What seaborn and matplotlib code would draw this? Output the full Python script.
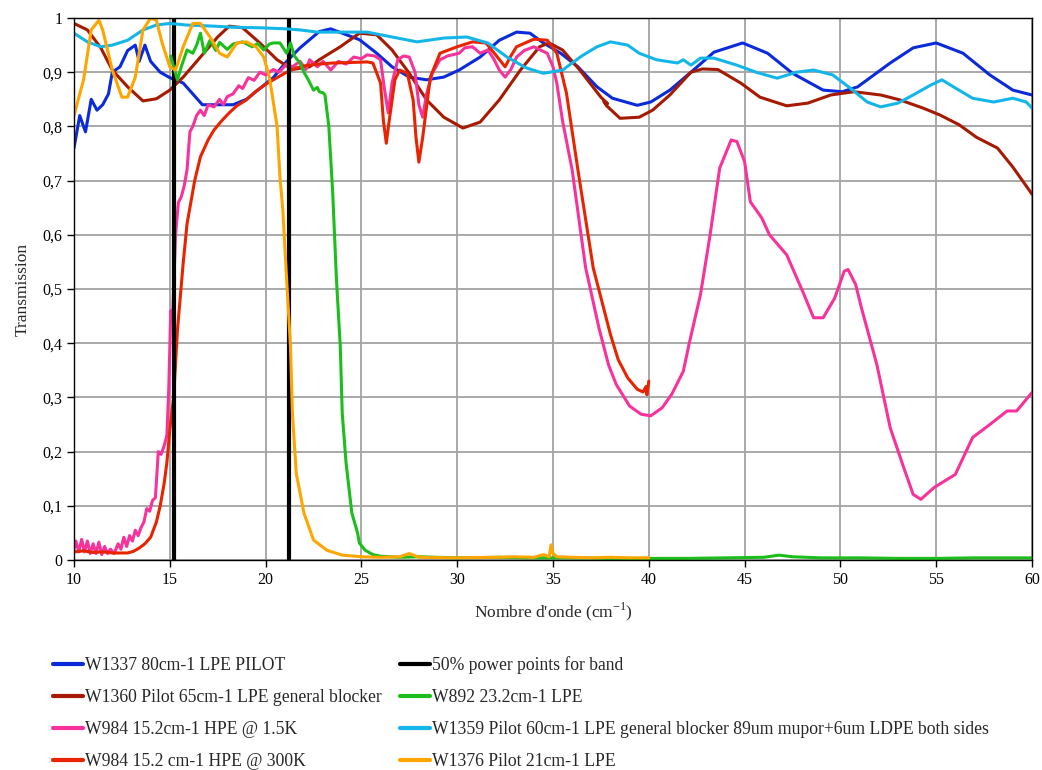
import numpy as np
import pandas as pd
import matplotlib
matplotlib.use("Agg")
import matplotlib.pyplot as plt
import seaborn as sns

# --- valeurs ---
x_ticks = [10, 15, 20, 25, 30, 35, 40, 45, 50, 55, 60]
y_ticks = [0, 0.1, 0.2, 0.3, 0.4, 0.5, 0.6, 0.7, 0.8, 0.9, 1.0]
y_tick_labels = ["0", "0,1", "0,2", "0,3", "0,4", "0,5", "0,6", "0,7", "0,8", "0,9", "1"]

w1337_x = [10.0, 10.3, 10.6, 10.9, 11.2, 11.5, 11.8, 12.0, 12.4, 12.8, 13.2, 13.4, 13.7, 14.0,
           14.5, 15.0, 15.7, 16.2, 16.7, 17.5, 18.3, 19.0, 19.7, 20.4, 21.1, 21.8, 22.8, 23.4,
           24.0, 24.9, 25.8, 26.6, 27.5, 28.4, 29.3, 30.1, 31.2, 32.2, 33.1, 33.8, 34.5, 35.4,
           36.3, 37.3, 38.1, 39.4, 40.1, 41.1, 42.2, 43.4, 44.9, 46.2, 47.5, 49.1, 50.1, 50.9,
           52.6, 53.8, 55.0, 56.4, 57.8, 59.0, 60.0]
w1337_y = [0.76, 0.82, 0.79, 0.85, 0.83, 0.84, 0.86, 0.90, 0.91, 0.94, 0.95, 0.92, 0.95, 0.92,
           0.90, 0.89, 0.88, 0.86, 0.84, 0.84, 0.84, 0.85, 0.87, 0.89, 0.92, 0.945, 0.975, 0.98,
           0.972, 0.96, 0.935, 0.91, 0.891, 0.886, 0.891, 0.904, 0.928, 0.959, 0.974, 0.972, 0.954, 0.935,
           0.91, 0.873, 0.852, 0.839, 0.845, 0.867, 0.90, 0.937, 0.954, 0.935, 0.898, 0.867, 0.864, 0.873,
           0.917, 0.945, 0.954, 0.935, 0.895, 0.867, 0.858]

w1360_x = [10.0, 10.7, 11.4, 12.0, 12.8, 13.6, 14.3, 15.0, 15.7, 16.6, 17.5, 18.1, 18.8, 19.7,
           20.6, 21.4, 22.3, 22.8, 23.9, 24.9, 25.8, 26.6, 27.5, 28.4, 29.3, 30.3, 31.2, 32.2,
           33.3, 34.3, 34.8, 35.5, 36.4, 37.5, 37.85, 37.65, 37.8, 38.5, 39.5, 40.2, 41.1, 42.2,
           42.8, 43.6, 44.8, 45.8, 47.2, 48.3, 49.5, 50.7, 52.1, 53.1, 54.3, 55.2, 56.2, 57.1,
           58.2, 59.0, 60.0]
w1360_y = [0.99, 0.978, 0.945, 0.904, 0.873, 0.847, 0.851, 0.867, 0.891, 0.928, 0.965, 0.985, 0.982, 0.954,
           0.923, 0.905, 0.91, 0.923, 0.947, 0.972, 0.969, 0.941, 0.898, 0.849, 0.817, 0.797, 0.808, 0.849,
           0.904, 0.947, 0.954, 0.941, 0.904, 0.854, 0.842, 0.846, 0.838, 0.815, 0.817, 0.83, 0.858, 0.90,
           0.906, 0.905, 0.88, 0.854, 0.838, 0.843, 0.858, 0.864, 0.858, 0.849, 0.834, 0.821, 0.803, 0.78,
           0.76, 0.725, 0.675]

w984_cold_x = [10.0, 10.1, 10.25, 10.4, 10.55, 10.7, 10.85, 11.0, 11.15, 11.3, 11.45, 11.6, 11.75, 11.9,
               12.1, 12.3, 12.45, 12.6, 12.75, 12.9, 13.05, 13.2, 13.35, 13.5, 13.65, 13.8, 13.95, 14.1,
               14.25, 14.4, 14.55, 14.7, 14.85, 14.95, 15.05, 15.15, 15.3, 15.45, 15.6, 15.75, 15.9, 16.05,
               16.2, 16.4, 16.6, 16.8, 17.0, 17.3, 17.6, 17.8, 18.0, 18.3, 18.6, 18.8, 19.1, 19.4,
               19.7, 20.0, 20.4, 20.7, 21.1, 21.4, 21.8, 22.1, 22.3, 22.7, 23.0, 23.4, 23.8, 24.2,
               24.6, 25.0, 25.3, 25.7, 26.0, 26.2, 26.4, 26.6, 26.9, 27.2, 27.5, 27.8, 28.0, 28.2,
               28.4, 28.7, 29.1, 29.5, 30.1, 30.4, 30.8, 31.2, 31.6, 31.9, 32.2, 32.5, 32.8, 33.1,
               33.5, 34.0, 34.4, 34.7, 35.0, 35.2, 35.5, 36.0, 36.7, 37.4, 37.9, 38.3, 39.0, 39.6,
               40.1, 40.7, 41.2, 41.8, 42.1, 42.7, 43.2, 43.7, 44.3, 44.6, 45.0, 45.3, 45.9, 46.3,
               47.2, 48.1, 48.6, 49.1, 49.7, 50.2, 50.4, 50.8, 51.1, 51.9, 52.6, 53.3, 53.8, 54.2,
               54.9, 56.0, 56.9, 57.8, 58.7, 59.2, 60.0]
w984_cold_y = [0.02, 0.035, 0.015, 0.038, 0.015, 0.035, 0.012, 0.03, 0.012, 0.033, 0.01, 0.025, 0.012, 0.02,
               0.012, 0.03, 0.02, 0.042, 0.025, 0.045, 0.035, 0.055, 0.045, 0.06, 0.07, 0.095, 0.09, 0.11,
               0.115, 0.20, 0.195, 0.21, 0.23, 0.32, 0.46, 0.45, 0.60, 0.66, 0.67, 0.69, 0.72, 0.79,
               0.80, 0.82, 0.83, 0.82, 0.84, 0.836, 0.85, 0.84, 0.855, 0.86, 0.875, 0.87, 0.89, 0.885,
               0.90, 0.895, 0.905, 0.90, 0.915, 0.91, 0.92, 0.905, 0.923, 0.91, 0.92, 0.904, 0.92, 0.915,
               0.928, 0.925, 0.932, 0.93, 0.923, 0.87, 0.825, 0.88, 0.923, 0.93, 0.928, 0.90, 0.84, 0.817,
               0.86, 0.898, 0.923, 0.93, 0.935, 0.945, 0.947, 0.935, 0.941, 0.925, 0.904, 0.891, 0.905, 0.928,
               0.94, 0.947, 0.94, 0.935, 0.91, 0.88, 0.81, 0.72, 0.54, 0.428, 0.36, 0.324, 0.284, 0.269,
               0.266, 0.281, 0.306, 0.348, 0.398, 0.49, 0.60, 0.723, 0.775, 0.772, 0.735, 0.661, 0.631, 0.60,
               0.563, 0.49, 0.447, 0.447, 0.483, 0.533, 0.536, 0.508, 0.465, 0.361, 0.244, 0.171, 0.121, 0.112,
               0.134, 0.158, 0.226, 0.25, 0.275, 0.275, 0.309]

w984_warm_x = [10.0, 10.5, 11.0, 11.5, 12.0, 12.5, 12.8, 13.1, 13.4, 13.7, 14.0, 14.3, 14.5, 14.7,
               14.85, 15.0, 15.2, 15.4, 15.7, 15.9, 16.1, 16.3, 16.6, 17.0, 17.3, 17.7, 18.1, 18.5,
               19.0, 19.5, 20.1, 20.6, 21.1, 21.6, 22.2, 22.8, 23.5, 24.5, 25.3, 25.6, 26.0, 26.15,
               26.3, 26.45, 26.75, 27.0, 27.4, 27.7, 27.85, 28.0, 28.2, 28.6, 29.1, 30.0, 30.8, 31.5,
               32.1, 32.5, 32.8, 33.1, 34.0, 34.7, 35.2, 35.7, 36.3, 37.1, 38.0, 38.4, 38.9, 39.4,
               39.7, 39.85, 39.9, 40.0]
w984_warm_y = [0.015, 0.017, 0.014, 0.015, 0.013, 0.013, 0.013, 0.016, 0.022, 0.03, 0.042, 0.07, 0.10, 0.14,
               0.18, 0.24, 0.30, 0.424, 0.548, 0.62, 0.66, 0.70, 0.744, 0.775, 0.793, 0.81, 0.825, 0.838,
               0.849, 0.865, 0.88, 0.89, 0.90, 0.908, 0.913, 0.915, 0.917, 0.918, 0.919, 0.917, 0.88, 0.81,
               0.769, 0.81, 0.886, 0.904, 0.898, 0.849, 0.78, 0.734, 0.78, 0.891, 0.935, 0.947, 0.956, 0.954,
               0.928, 0.91, 0.93, 0.947, 0.961, 0.959, 0.935, 0.862, 0.72, 0.539, 0.416, 0.37, 0.336, 0.315,
               0.31, 0.32, 0.305, 0.33]

band_low_x = [15.2, 15.2]
band_high_x = [21.2, 21.2]
band_y = [0.0, 1.0]

w892_x = [15.05, 15.2, 15.4, 15.6, 15.9, 16.2, 16.4, 16.6, 16.8, 17.1, 17.4, 17.6, 18.0, 18.3,
          18.8, 19.3, 19.6, 19.9, 20.2, 20.4, 20.75, 21.1, 21.3, 21.5, 21.8, 22.0, 22.2, 22.5,
          22.7, 22.8, 23.0, 23.1, 23.3, 23.5, 23.7, 23.9, 24.0, 24.2, 24.5, 24.8, 24.9, 25.2,
          25.6, 26.0, 27.0, 28.0, 30.0, 32.0, 34.0, 36.0, 38.0, 40.0, 42.0, 44.0, 46.0, 46.8,
          47.5, 49.0, 51.0, 53.0, 55.0, 57.0, 59.0, 60.0]
w892_y = [0.93, 0.91, 0.886, 0.91, 0.941, 0.935, 0.95, 0.972, 0.935, 0.959, 0.94, 0.955, 0.942, 0.952,
          0.956, 0.947, 0.953, 0.941, 0.952, 0.954, 0.954, 0.935, 0.954, 0.93, 0.917, 0.90, 0.888, 0.867,
          0.872, 0.864, 0.862, 0.858, 0.80, 0.68, 0.517, 0.393, 0.271, 0.179, 0.087, 0.05, 0.031, 0.018,
          0.01, 0.007, 0.005, 0.006, 0.004, 0.005, 0.004, 0.004, 0.003, 0.003, 0.003, 0.004, 0.005, 0.009,
          0.006, 0.004, 0.004, 0.003, 0.003, 0.004, 0.004, 0.004]

w1359_x = [10.0, 10.7, 11.4, 12.0, 12.8, 13.6, 14.3, 15.0, 15.9, 17.3, 18.3, 19.7, 21.1, 21.8,
           22.7, 23.5, 25.3, 26.6, 27.9, 29.3, 30.5, 31.6, 32.6, 33.6, 34.5, 35.5, 36.5, 37.3,
           38.0, 38.9, 39.5, 40.4, 41.5, 41.8, 42.2, 42.7, 43.4, 44.6, 45.6, 46.7, 47.7, 48.6,
           49.6, 50.5, 51.4, 52.1, 53.0, 53.8, 54.7, 55.3, 55.9, 56.9, 58.0, 59.0, 59.7, 60.0]
w1359_y = [0.972, 0.956, 0.947, 0.95, 0.959, 0.978, 0.987, 0.99, 0.987, 0.985, 0.983, 0.982, 0.98, 0.978,
           0.974, 0.974, 0.974, 0.965, 0.956, 0.963, 0.965, 0.954, 0.928, 0.908, 0.898, 0.904, 0.93, 0.947,
           0.956, 0.95, 0.935, 0.923, 0.917, 0.923, 0.913, 0.926, 0.926, 0.913, 0.90, 0.889, 0.90, 0.904,
           0.895, 0.871, 0.845, 0.836, 0.843, 0.858, 0.876, 0.886, 0.873, 0.852, 0.845, 0.852, 0.845, 0.834]

w1376_x = [10.0, 10.5, 10.9, 11.3, 11.5, 12.0, 12.5, 12.8, 13.2, 13.6, 14.0, 14.3, 14.6, 15.0,
           15.3, 15.7, 16.2, 16.6, 17.1, 17.6, 18.0, 18.5, 19.0, 19.5, 19.9, 20.2, 20.6, 20.75,
           20.9, 21.1, 21.3, 21.4, 21.6, 22.0, 22.5, 23.2, 24.0, 25.0, 26.0, 27.0, 27.5, 28.0,
           30.0, 32.0, 33.0, 34.0, 34.5, 34.8, 34.9, 35.0, 35.2, 36.0, 37.0, 38.0, 39.0, 40.0]
w1376_y = [0.82, 0.886, 0.978, 0.996, 0.978, 0.904, 0.854, 0.854, 0.891, 0.978, 1.0, 0.996, 0.954, 0.91,
           0.904, 0.947, 0.99, 0.99, 0.965, 0.935, 0.928, 0.954, 0.956, 0.947, 0.928, 0.891, 0.80, 0.707,
           0.646, 0.517, 0.393, 0.271, 0.16, 0.087, 0.037, 0.018, 0.009, 0.006, 0.005, 0.006, 0.012, 0.005,
           0.004, 0.005, 0.006, 0.005, 0.01, 0.006, 0.028, 0.012, 0.006, 0.005, 0.004, 0.005, 0.004, 0.004]

# --- style ---
sns.set_style("white")
plt.rcParams["font.family"] = ["Liberation Serif", "DejaVu Serif"]
plt.rcParams["mathtext.fontset"] = "custom"
plt.rcParams["mathtext.rm"] = "Liberation Serif"

fig = plt.figure(figsize=(10.42, 7.70), dpi=100)
ax = fig.add_axes([0.071, 0.2727, 0.9194, 0.7039])

series = [
    (w1337_x, w1337_y, "#0B2BDB", "W1337 80cm-1 LPE PILOT"),
    (w1360_x, w1360_y, "#A51A00", "W1360 Pilot 65cm-1 LPE general blocker"),
    (w984_cold_x, w984_cold_y, "#F7339B", "W984 15.2cm-1 HPE @ 1.5K"),
    (w984_warm_x, w984_warm_y, "#E82400", "W984 15.2 cm-1 HPE @ 300K"),
    (band_low_x, band_y, "black", "50% power points for band"),
    (band_high_x, band_y, "black", "_nolegend_"),
    (w892_x, w892_y, "#1CBE1C", "W892 23.2cm-1 LPE"),
    (w1359_x, w1359_y, "#14B6EA", "W1359 Pilot 60cm-1 LPE general blocker 89um mupor+6um LDPE both sides"),
    (w1376_x, w1376_y, "#FFA500", "W1376 Pilot 21cm-1 LPE"),
]

for xs, ys, col, lab in series:
    lw = 3.0 if col == "black" else 2.2
    sns.lineplot(x=xs, y=ys, ax=ax, color=col, linewidth=lw, label=lab,
                 estimator=None, sort=False)

handles, labels = ax.get_legend_handles_labels()
if ax.get_legend() is not None:
    ax.get_legend().remove()

ax.set_xlim(10, 60)
ax.set_ylim(0, 1)
ax.set_xticks(x_ticks)
ax.set_yticks(y_ticks)
ax.set_yticklabels(y_tick_labels)
ax.grid(True, color="#A3A3A3", linewidth=1.3)
ax.set_axisbelow(True)
for sp in ax.spines.values():
    sp.set_color("black")
    sp.set_linewidth(1.0)
ax.tick_params(axis="both", direction="out", length=5, width=1, colors="black",
               labelsize=11.5, bottom=True, left=True)

ax.set_xlabel(r"Nombre d'onde (cm$^{\mathregular{-1}}$)", fontsize=12.5, labelpad=9)
ax.set_ylabel("Transmission", fontsize=12.5, labelpad=8)

leg = fig.legend(handles, labels, loc="upper left", bbox_to_anchor=(0.051, 0.148),
                 ncol=2, frameon=False, fontsize=12.7, handlelength=1.7, handletextpad=0.12,
                 columnspacing=1.0, labelspacing=0.85, borderpad=0, borderaxespad=0)
for h in leg.get_lines():
    h.set_linewidth(3.0)

plt.savefig("out.png", dpi=100)
